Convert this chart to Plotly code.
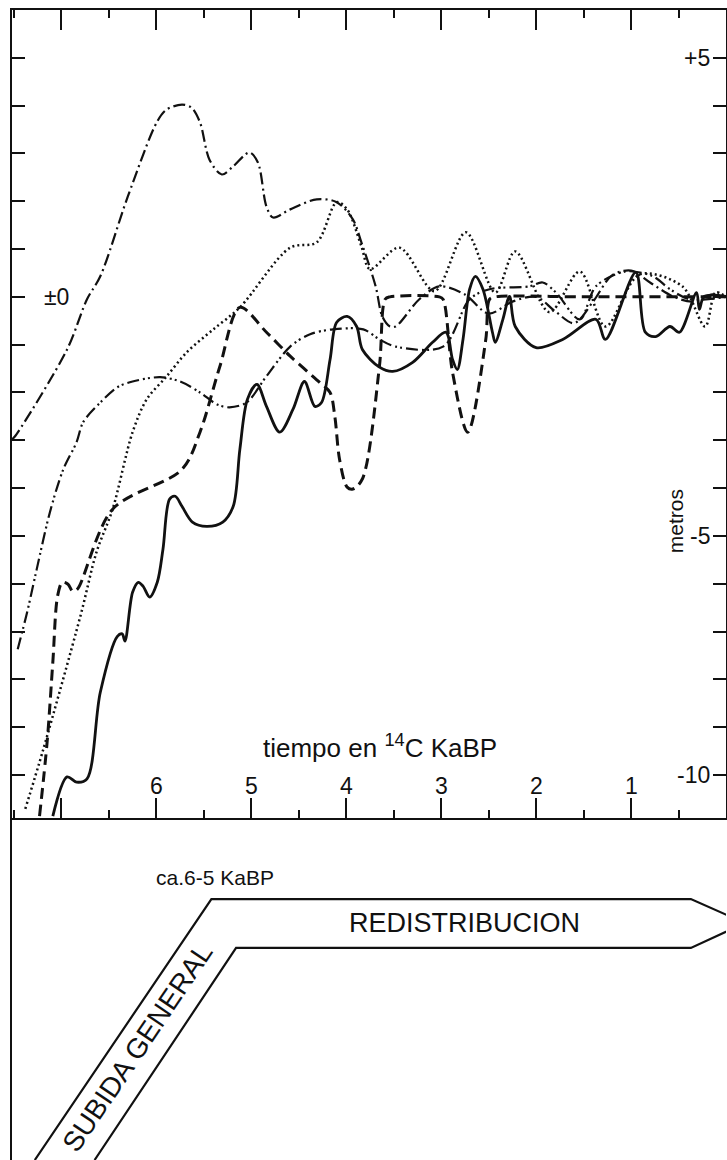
import plotly.graph_objects as go

# Curve data: time (14C ka BP) and relative sea level (m)
dashdot_t = [7.52, 7.49, 6.94, 6.73, 6.59, 6.30, 5.99, 5.89, 5.73, 5.63, 5.54, 5.44, 5.31, 5.19,
             5.02, 4.93, 4.84, 4.77, 4.59, 4.31, 4.10, 3.93, 3.84, 3.69, 3.62, 3.54, 3.48, 3.23,
             3.02, 2.75, 2.50, 2.25, 2.00, 1.80, 1.60, 1.40, 1.20, 1.00, 0.80, 0.55, 0.35, 0.15, 0.0]
dashdot_m = [-2.98, -2.92, -1.10, -0.05, 0.43, 2.10, 3.67, 3.92, 4.02, 3.96, 3.65, 2.87, 2.56, 2.73,
             3.02, 2.81, 1.89, 1.66, 1.83, 2.04, 1.98, 1.62, 1.14, 0.22, -0.41, -0.62, -0.62, -0.05,
             0.22, 0.05, -0.35, -0.10, 0.00, -0.30, -0.55, -0.10, 0.45, 0.55, 0.30, 0.00, -0.10, 0.05, 0.0]

dashed_t = [7.23, 7.15, 7.09, 7.04, 6.99, 6.93, 6.88, 6.83, 6.46, 5.73, 5.54, 5.33, 5.12, 4.84,
            4.59, 4.28, 4.17, 4.12, 4.07, 3.99, 3.93, 3.83, 3.65, 3.59, 3.54, 3.02, 2.98, 2.88,
            2.72, 2.53, 2.49, 2.43, 1.5, 0.0]
dashed_m = [-10.86, -9.31, -7.64, -6.26, -5.97, -6.01, -6.16, -6.11, -4.44, -3.61, -2.83, -1.45, -0.22, -0.74,
            -1.24, -1.79, -2.00, -2.50, -3.40, -3.98, -4.02, -3.81, -1.45, -0.05, 0.0, 0.0, -0.05, -1.58,
            -2.83, -0.89, -0.05, 0.0, 0.0, 0.0]

dotted_t = [7.38, 7.19, 6.80, 6.63, 6.46, 6.25, 6.10, 5.89, 5.68, 5.40, 5.12, 4.59, 4.31, 4.10,
            3.99, 3.84, 3.75, 3.44, 3.07, 2.74, 2.43, 2.22, 1.86, 1.54, 1.27, 0.91, 0.46, 0.22, 0.11, 0.0]
dotted_m = [-10.71, -9.46, -6.68, -5.34, -4.44, -2.83, -2.14, -1.66, -1.16, -0.68, -0.22, 1.03, 1.14, 1.98,
            1.83, 1.06, 0.58, 1.03, 0.12, 1.35, 0.09, 0.95, -0.32, 0.53, -0.62, 0.47, 0.22, -0.62, 0.09, 0.0]

solid_t = [7.09, 6.94, 6.84, 6.73, 6.59, 6.41, 6.36, 6.33, 6.25, 6.19, 6.14, 6.07, 5.99, 5.93,
           5.86, 5.80, 5.73, 5.62, 5.47, 5.30, 5.19, 5.12, 5.04, 4.94, 4.84, 4.70, 4.56, 4.44,
           4.33, 4.26, 4.17, 4.10, 3.99, 3.89, 3.83, 3.65, 3.51, 3.30, 3.09, 2.95, 2.88, 2.83,
           2.77, 2.70, 2.64, 2.56, 2.46, 2.43, 2.35, 2.28, 2.22, 2.00, 1.72, 1.37, 1.27, 0.95,
           0.85, 0.74, 0.59, 0.49, 0.31, 0.28, 0.23, 0.0]
solid_m = [-10.86, -10.04, -10.15, -10.08, -8.27, -7.10, -7.05, -7.20, -6.18, -5.97, -6.05, -6.28, -5.97, -5.28,
           -4.23, -4.17, -4.38, -4.71, -4.80, -4.71, -4.38, -3.19, -2.14, -1.83, -2.29, -2.83, -2.35, -1.77,
           -2.29, -2.21, -1.31, -0.53, -0.41, -0.62, -1.10, -1.47, -1.56, -1.37, -0.95, -0.74, -1.31, -1.52,
           -0.89, 0.16, 0.43, 0.16, -0.74, -0.95, -0.47, 0.01, -0.62, -1.06, -0.89, -0.47, -0.89, 0.51,
           -0.74, -0.83, -0.62, -0.74, 0.09, -0.26, 0.01, 0.01]

dashdotdot_t = [7.46, 7.36, 7.26, 7.12, 6.98, 6.84, 6.77, 6.59, 6.41, 6.25, 5.96, 5.75, 5.54, 5.36,
                5.23, 5.05, 4.84, 4.59, 4.38, 4.14, 3.82, 3.65, 3.48, 2.98, 2.70, 2.49, 2.07, 1.93,
                1.79, 1.54, 1.37, 1.06, 0.77, 0.59, 0.38, 0.0]
dashdotdot_m = [-7.37, -6.59, -5.70, -4.50, -3.61, -3.04, -2.62, -2.21, -1.89, -1.77, -1.68, -1.77, -2.00, -2.25,
                -2.31, -2.21, -1.66, -1.04, -0.78, -0.68, -0.68, -0.89, -1.04, -1.04, -0.05, 0.16, 0.22, 0.30,
                0.09, -0.47, 0.22, 0.53, 0.43, 0.16, -0.05, 0.0]

# Axis ticks and labels
x_major = [1, 2, 3, 4, 5, 6, 7]
x_labels = ["1", "2", "3", "4", "5", "6"]
y_ticks = list(range(-10, 6))
right_labels = {5: "+5", -5: "-5", -10: "-10"}

# Schematic of the two phases (time in ka, level in panel units 0..1)
band_outer_t = [7.28, 5.42, 0.37, -0.20]
band_outer_v = [0.0, 0.763, 0.763, 0.693]
band_inner_t = [6.65, 5.16, 0.37, -0.20]
band_inner_v = [0.0, 0.620, 0.620, 0.693]

FONT = "Liberation Sans, Arial, sans-serif"
INK = "#111111"

fig = go.Figure()

def curve(t, m, dash, width):
    fig.add_trace(go.Scatter(x=t, y=m, mode="lines", xaxis="x", yaxis="y",
                             line=dict(color=INK, width=width, dash=dash, shape="spline", smoothing=0.9),
                             hoverinfo="skip", showlegend=False))

curve(dashdot_t, dashdot_m, "12px,4px,2px,4px", 2.2)
curve(dashdotdot_t, dashdotdot_m, "12px,4px,2px,3px,2px,4px", 2.2)
curve(dotted_t, dotted_m, "2px,3px", 2.5)
curve(dashed_t, dashed_m, "11px,6px", 3.0)
curve(solid_t, solid_m, "solid", 2.8)

for t, v in ((band_outer_t, band_outer_v), (band_inner_t, band_inner_v)):
    fig.add_trace(go.Scatter(x=t, y=v, mode="lines", xaxis="x2", yaxis="y2",
                             line=dict(color=INK, width=2.2), hoverinfo="skip", showlegend=False))

bottom = 342 / 1150

fig.update_layout(
    width=727, height=1160,
    margin=dict(l=12, r=1, t=10, b=0),
    paper_bgcolor="white", plot_bgcolor="white",
    font=dict(family=FONT, color=INK),
    xaxis=dict(range=[7.52, 0], domain=[0, 1], anchor="y", showgrid=False, zeroline=False,
               showline=True, linecolor=INK, linewidth=2, mirror="ticks",
               tickmode="array", tickvals=x_major, ticks="inside", ticklen=20, tickwidth=2,
               tickcolor=INK, showticklabels=False,
               minor=dict(dtick=0.5, tick0=0, ticks="inside", ticklen=8, tickwidth=2, tickcolor=INK)),
    yaxis=dict(range=[-10.9, 6.0], domain=[bottom, 1], anchor="x", showgrid=False, zeroline=False,
               showline=True, linecolor=INK, linewidth=2, mirror="ticks",
               tickmode="array", tickvals=y_ticks, ticks="inside", ticklen=13, tickwidth=2,
               tickcolor=INK, showticklabels=False),
    xaxis2=dict(range=[7.52, 0], domain=[0, 1], anchor="y2", visible=False),
    yaxis2=dict(range=[0, 1], domain=[0, bottom], anchor="x2", showgrid=False, zeroline=False,
                showline=True, linecolor=INK, linewidth=2, showticklabels=False, ticks=""),
)

ann = []
for lab in x_labels:
    ann.append(dict(x=float(lab), y=-10.23, xref="x", yref="y", text=lab, showarrow=False,
                    font=dict(size=23)))
ann.append(dict(x=7.2, y=0, xref="x", yref="y", text="±0", showarrow=False, xanchor="left",
                font=dict(size=23)))
for v, lab in right_labels.items():
    ann.append(dict(x=0.15, y=v, xref="x", yref="y", text=lab, showarrow=False, xanchor="right",
                    font=dict(size=23)))
ann.append(dict(x=0.53, y=-4.7, xref="x", yref="y", text="metros", showarrow=False, textangle=-90,
                font=dict(size=21)))
ann.append(dict(x=3.64, y=-9.41, xref="x", yref="y", text="tiempo en <sup>14</sup>C KaBP",
                showarrow=False, font=dict(size=26)))
ann.append(dict(x=5.38, y=0.825, xref="x2", yref="y2", text="ca.6-5 KaBP", showarrow=False,
                font=dict(size=21)))
ann.append(dict(x=2.75, y=0.693, xref="x2", yref="y2", text="REDISTRIBUCION", showarrow=False,
                font=dict(size=27)))
ann.append(dict(x=6.2, y=0.33, xref="x2", yref="y2", text="SUBIDA GENERAL", showarrow=False,
                textangle=-56, font=dict(size=28)))
fig.update_layout(annotations=ann)

fig.write_html("out.html")
